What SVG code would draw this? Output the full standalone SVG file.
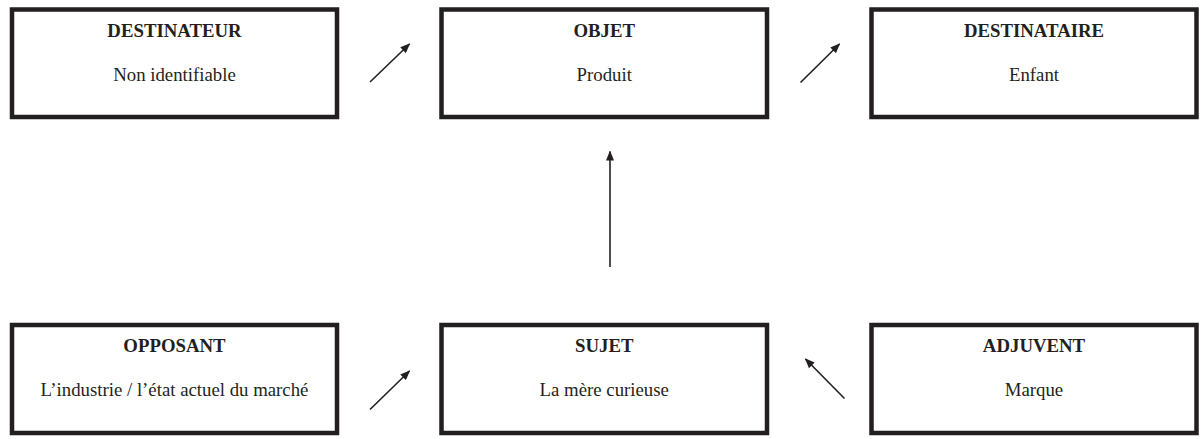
<svg xmlns="http://www.w3.org/2000/svg" width="1201" height="439" viewBox="0 0 1201 439">
<style>
.box{fill:#fff;stroke:#231f20;stroke-width:4.5}
.t{font-family:"Liberation Serif","Times New Roman",serif;font-size:18.8px;fill:#231f20;text-anchor:middle}
.b{font-weight:bold}
.c{stroke:#231f20;stroke-width:1.6;fill:none;marker-end:url(#ah)}
</style>
<defs>
<marker id="ah" markerWidth="10" markerHeight="8" refX="9" refY="4" orient="auto" markerUnits="userSpaceOnUse">
<path d="M0,0 L10,4 L0,8 Z" fill="#231f20"/>
</marker>
</defs>
<rect width="1201" height="439" fill="#fff"/>
<g id="destinateur">
<rect class="box" x="12" y="9.5" width="325" height="107.5"/>
<text class="t b" x="174.5" y="36.5">DESTINATEUR</text>
<text class="t" x="174.5" y="81">Non identifiable</text>
</g>
<g id="objet">
<rect class="box" x="441.5" y="9.5" width="325.5" height="107.5"/>
<text class="t b" x="604.25" y="36.5">OBJET</text>
<text class="t" x="604.25" y="81">Produit</text>
</g>
<g id="destinataire">
<rect class="box" x="871.5" y="9.5" width="325" height="107.5"/>
<text class="t b" x="1034" y="36.5">DESTINATAIRE</text>
<text class="t" x="1034" y="81">Enfant</text>
</g>
<g id="opposant">
<rect class="box" x="12" y="325" width="325" height="108"/>
<text class="t b" x="174.5" y="352">OPPOSANT</text>
<text class="t" x="174.5" y="396">L’industrie / l’état actuel du marché</text>
</g>
<g id="sujet">
<rect class="box" x="441.5" y="325" width="325.5" height="108"/>
<text class="t b" x="604.25" y="352">SUJET</text>
<text class="t" x="604.25" y="396">La mère curieuse</text>
</g>
<g id="adjuvent">
<rect class="box" x="871.5" y="325" width="325" height="108"/>
<text class="t b" x="1034" y="352">ADJUVENT</text>
<text class="t" x="1034" y="396">Marque</text>
</g>
<g id="connectors">
<line class="c" x1="370" y1="82" x2="409.5" y2="44"/>
<line class="c" x1="800.5" y1="82.5" x2="839.5" y2="44"/>
<line class="c" x1="610" y1="267" x2="610" y2="151.5"/>
<line class="c" x1="370" y1="409.5" x2="409.5" y2="371"/>
<line class="c" x1="844.5" y1="398.5" x2="805.5" y2="359"/>
</g>
</svg>
